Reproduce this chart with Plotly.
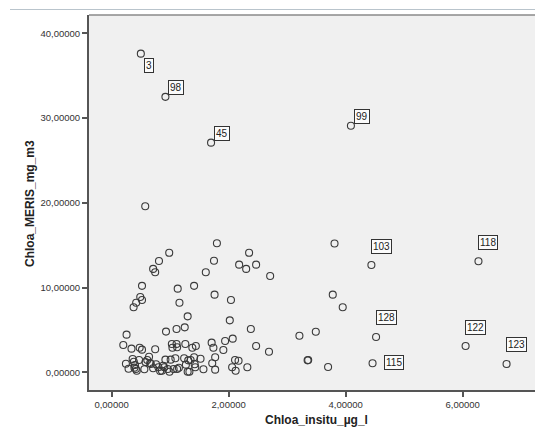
import plotly.graph_objects as go

# ---- data ----
insitu = [
    3.81, 2.71, 3.78, 3.95, 3.21, 3.49, 2.69, 3.35, 3.36, 3.70,
    1.80, 0.985, 2.35, 1.75, 2.18, 2.30, 2.47, 1.61, 1.13, 1.41,
    1.76, 1.16, 2.04, 0.575, 0.81, 0.71, 0.745, 0.52, 0.49, 0.52,
    0.42, 0.376, 1.30, 2.02, 0.93, 1.11, 1.25, 2.38, 0.256, 0.20,
    0.34, 0.48, 0.52, 0.745, 1.03, 1.04, 1.11, 1.12, 1.26, 1.38,
    1.44, 1.71, 1.74, 1.94, 2.07, 1.91, 2.47,
    0.245, 0.29, 0.38, 0.40, 0.415, 0.43, 0.47, 0.56, 0.61, 0.64,
    0.67, 0.71, 0.76, 0.83, 0.86, 0.88, 0.90, 0.92, 0.96, 0.99,
    1.01, 1.06, 1.09, 1.12, 1.15, 1.24, 1.27, 1.30, 1.33, 1.31,
    1.35, 1.41, 1.42, 1.43, 1.52, 1.57, 1.72, 1.77, 1.77, 2.06,
    2.11, 2.12, 2.17, 2.32, 0.36, 0.39, 0.58, 0.66, 0.80
]
meris = [
    15.2, 11.36, 9.16, 7.67, 4.32, 4.79, 2.43, 1.41, 1.45, 0.63,
    15.22, 14.1, 14.1, 13.17, 12.7, 12.2, 12.7, 11.8, 9.87, 10.2,
    9.16, 8.2, 8.53, 19.6, 13.13, 12.2, 11.8, 10.2, 8.88, 8.53,
    8.2, 7.67, 6.6, 6.13, 4.8, 5.1, 5.3, 5.1, 4.44, 3.22,
    2.79, 2.9, 2.67, 2.71, 3.34, 2.9, 3.34, 2.95, 3.34, 2.9,
    3.1, 3.5, 2.9, 3.7, 3.97, 2.63, 3.1,
    1.0, 0.42, 1.25, 0.86, 0.39, 0.19, 1.45, 0.35, 1.45, 1.84,
    0.98, 0.47, 0.94, 0.15, 0.19, 0.78, 0.59, 1.49, 0.39, 0.07,
    1.49, 0.39, 1.65, 0.39, 0.54, 1.65, 0.9, 0.07, 0.07, 1.41,
    1.45, 1.77, 0.94, 0.59, 1.6, 0.35, 1.06, 1.77, 0.31, 0.59,
    1.45, 0.19, 1.37, 0.59, 1.57, 0.55, 1.2, 1.1, 0.6
]

label_ids = ["3", "98", "45", "99", "103", "118", "128", "122", "123", "115"]
label_x = [0.50, 0.92, 1.70, 4.09, 4.44, 6.27, 4.52, 6.05, 6.75, 4.46]
label_y = [37.6, 32.5, 27.1, 29.1, 12.66, 13.1, 4.17, 3.1, 0.98, 1.06]

x_tickvals = [0, 2, 4, 6]
x_ticktext = ["0,00000", "2,00000", "4,00000", "6,00000"]
y_tickvals = [0, 10, 20, 30, 40]
y_ticktext = ["0,00000", "10,00000", "20,00000", "30,00000", "40,00000"]

# label box pixel offsets (layout only)
label_shift = {"3": (8, -12), "115": (21, 1)}
default_shift = (11, 9)
big_shift = (10, 19)
big_ids = {"103", "118", "128", "122", "123"}

FONT = "Liberation Sans, Arial, sans-serif"
mk = dict(symbol="circle-open", size=7, color="#3a3a3a", line=dict(width=1.1))

fig = go.Figure()
fig.add_trace(go.Scatter(x=insitu, y=meris, mode="markers", marker=mk,
                         hoverinfo="x+y", showlegend=False))
fig.add_trace(go.Scatter(x=label_x, y=label_y, mode="markers", marker=mk,
                         text=label_ids, hoverinfo="text+x+y", showlegend=False))

for lid, lx, ly in zip(label_ids, label_x, label_y):
    if lid in label_shift:
        dx, dy = label_shift[lid]
    elif lid in big_ids:
        dx, dy = big_shift
    else:
        dx, dy = default_shift
    fig.add_annotation(x=lx, y=ly, xref="x", yref="y", text=lid, showarrow=False,
                       xshift=dx, yshift=dy, font=dict(family=FONT, size=10, color="#222"),
                       bgcolor="#fbfbfb", bordercolor="#333", borderwidth=1, borderpad=1)

# axis titles
fig.add_annotation(xref="paper", yref="paper", x=(316 - 89) / 446, y=(390 - 420) / 375,
                   text="<b>Chloa_insitu_µg_l</b>", showarrow=False,
                   font=dict(family=FONT, size=12, color="#222"),
                   xanchor="center", yanchor="middle")
fig.add_annotation(xref="paper", yref="paper", x=(30 - 89) / 446, y=(390 - 204) / 375,
                   text="<b>Chloa_MERIS_mg_m3</b>", showarrow=False, textangle=-90,
                   font=dict(family=FONT, size=12, color="#222"),
                   xanchor="center", yanchor="middle")

# top frame line and thin header line
fig.add_shape(type="line", xref="paper", yref="paper", x0=0, x1=1.01, y0=1, y1=1,
              line=dict(color="#8a8a8a", width=1.5))
fig.add_shape(type="line", xref="paper", yref="paper", x0=(10 - 89) / 446, x1=1.01,
              y0=(390 - 9.5) / 375, y1=(390 - 9.5) / 375,
              line=dict(color="#b9c4cc", width=1))

fig.update_layout(
    width=535, height=429,
    margin=dict(l=89, r=0, t=15, b=39),
    paper_bgcolor="white", plot_bgcolor="#f0f0f0",
    font=dict(family=FONT),
    xaxis=dict(range=[-0.386, 7.236], tickvals=x_tickvals, ticktext=x_ticktext,
               showgrid=False, zeroline=False, showline=True, linecolor="#555",
               linewidth=2, ticks="outside", ticklen=5, tickcolor="#555", tickwidth=1.5,
               tickfont=dict(family=FONT, size=9.5, color="#333")),
    yaxis=dict(range=[-2.09, 42.16], tickvals=y_tickvals, ticktext=y_ticktext,
               showgrid=False, zeroline=False, showline=True, linecolor="#555",
               linewidth=2, ticks="outside", ticklen=5, tickcolor="#555", tickwidth=1.5,
               tickfont=dict(family=FONT, size=9.5, color="#333")),
)

fig.write_html("out.html")
